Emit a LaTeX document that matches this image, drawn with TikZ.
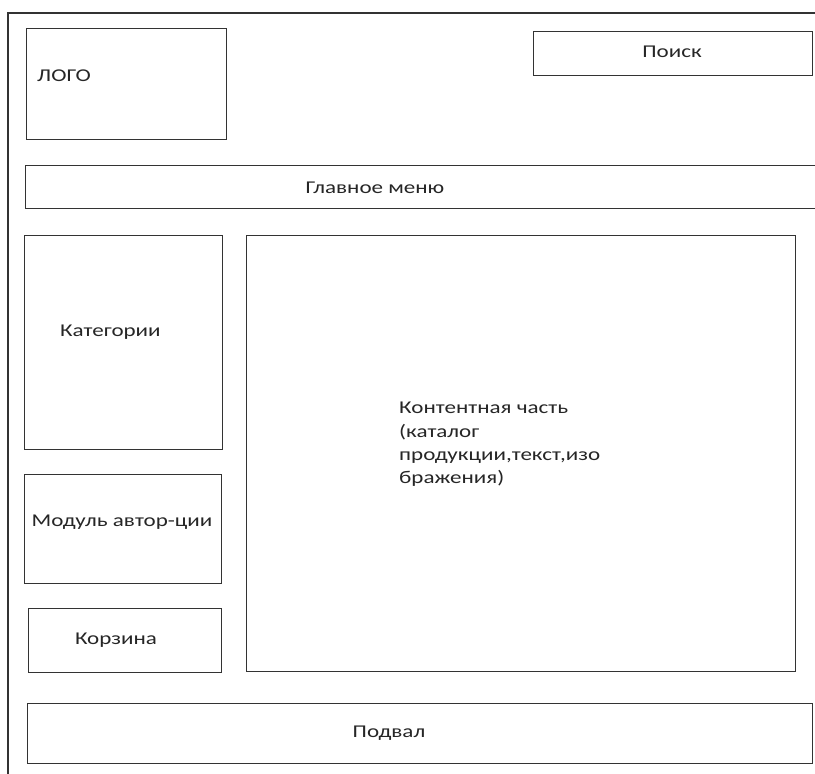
\documentclass[tikz,border=0pt]{standalone}
\usepackage{fontspec}
\setmainfont{Carlito}[FakeStretch=1.28]
\begin{document}
\begin{tikzpicture}[x=1pt,y=-1pt,
  box/.style={draw=black!80, line width=1.3pt, rectangle, anchor=north west, inner sep=0pt},
  lbl/.style={font=\fontsize{18}{23.3}\selectfont, text=black!85, inner sep=0pt}]
\useasboundingbox (0,0) rectangle (815,774);
\fill[white] (0,0) rectangle (815,774);
% outer frame
\coordinate (ftop) at (815,13);
\coordinate (fcorner) at (8,13);
\coordinate (fbot) at (8,774);
\draw[draw=black!80, line width=1.3pt] (ftop) -- (fcorner) -- (fbot);
% boxes
\node[box, minimum width=200pt, minimum height=111pt] (logo) at (26,28) {};
\node[box, minimum width=279pt, minimum height=44pt] (search) at (533,31) {};
\node[box, minimum width=800pt, minimum height=43pt] (menu) at (25,165) {};
\node[box, minimum width=198pt, minimum height=214pt] (cat) at (24,235) {};
\node[box, minimum width=197pt, minimum height=109pt] (auth) at (24,474) {};
\node[box, minimum width=193pt, minimum height=64pt] (cart) at (28,608) {};
\node[box, minimum width=549pt, minimum height=436pt] (content) at (246,235) {};
\node[box, minimum width=785pt, minimum height=60pt] (footer) at (27,703) {};
% labels
\node[lbl, anchor=west] (tlogo) at (37,76) {ЛОГО};
\node[lbl] (tsearch) at (672,52) {Поиск};
\node[lbl] (tmenu) at (375,188) {Главное меню};
\node[lbl, anchor=west] (tcat) at (60,332) {Категории};
\node[lbl] (tauth) at (122,522) {Модуль автор-ции};
\node[lbl] (tcart) at (116,640) {Корзина};
\node[lbl, anchor=north west, align=left] (tcontent) at (399,402) {Контентная часть\\(каталог\\продукции,текст,изо\\бражения)};
\node[lbl] (tfooter) at (389,733) {Подвал};
\end{tikzpicture}
\end{document}
